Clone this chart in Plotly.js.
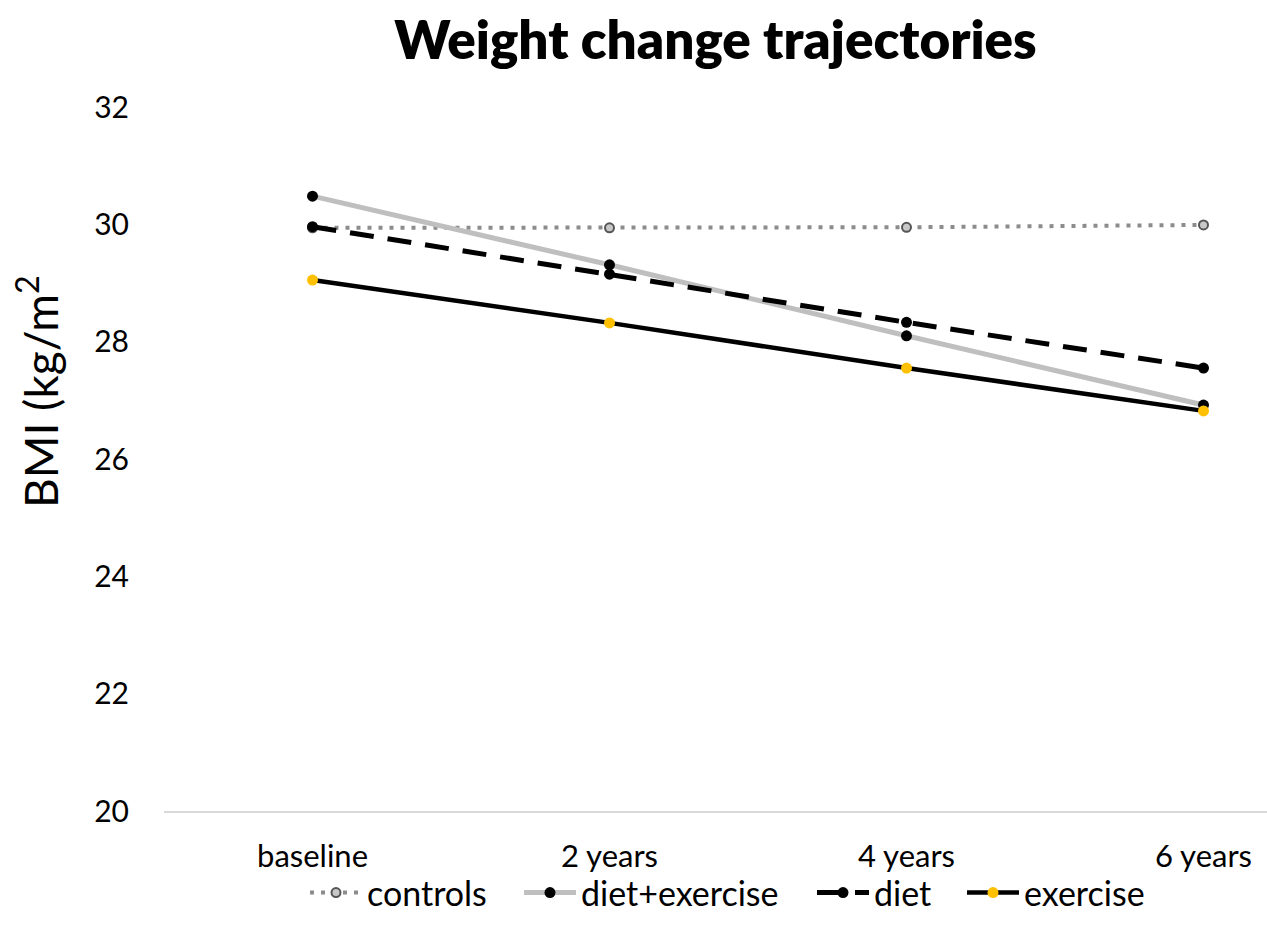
<!DOCTYPE html>
<html>
<head>
<meta charset="utf-8">
<script src="https://cdn.plot.ly/plotly-3.0.1.min.js"></script>
<style>html,body{margin:0;padding:0;background:#fff;}</style>
</head>
<body>
<div id="chart" style="width:1267px;height:935px;"></div>
<script>
const categories = ['baseline', '2 years', '4 years', '6 years'];
const controls = [29.94, 29.94, 29.95, 29.99];
const dietExercise = [30.48, 29.31, 28.10, 26.92];
const diet = [29.96, 29.15, 28.33, 27.55];
const exercise = [29.05, 28.32, 27.55, 26.82];
const yTicks = [20, 22, 24, 26, 28, 30, 32];

const W = 1267, H = 935;
const mL = 164, mR = 0, mT = 107, mB = 124;
const plotW = W - mL - mR, plotH = H - mT - mB;
const px = p => (p - mL) / plotW;
const legendY = -(893 - (H - mB)) / plotH;

const traces = [
  {
    x: categories, y: controls, name: 'controls', mode: 'lines+markers', type: 'scatter',
    legend: 'legend',
    line: {color: '#8C8C8C', width: 4, dash: '4px,7px'},
    marker: {symbol: 'circle', size: 9, color: '#C8C8C8', line: {color: '#555555', width: 2}}
  },
  {
    x: categories, y: dietExercise, name: 'diet+exercise', mode: 'lines+markers', type: 'scatter',
    legend: 'legend2',
    line: {color: '#BFBFBF', width: 5},
    marker: {symbol: 'circle', size: 11, color: '#000000'}
  },
  {
    x: categories, y: diet, name: 'diet', mode: 'lines+markers', type: 'scatter',
    legend: 'legend3',
    line: {color: '#000000', width: 5, dash: '24px,14px'},
    marker: {symbol: 'circle', size: 11, color: '#000000'}
  },
  {
    x: categories, y: exercise, name: 'exercise', mode: 'lines+markers', type: 'scatter',
    legend: 'legend4',
    line: {color: '#000000', width: 4.5},
    marker: {symbol: 'circle', size: 11, color: '#FFC000'}
  }
];

function legendAt(p) {
  return {
    orientation: 'h', x: px(p), xanchor: 'left', y: legendY, yanchor: 'middle',
    font: {size: 34, color: '#000000'}, itemwidth: 52, bgcolor: 'rgba(0,0,0,0)'
  };
}

const layout = {
  width: W, height: H,
  margin: {l: mL, r: mR, t: mT, b: mB, pad: 0},
  paper_bgcolor: '#ffffff', plot_bgcolor: '#ffffff',
  font: {family: 'Lato, "Open Sans", sans-serif', color: '#000000'},
  title: {
    text: 'Weight change trajectories',
    font: {family: 'Lato, sans-serif', size: 53, color: '#000000', weight: 800},
    x: 0.5, xref: 'paper', xanchor: 'center',
    y: 1 - 40 / H, yref: 'container', yanchor: 'middle'
  },
  xaxis: {
    type: 'category', range: [-0.5, -0.5 + plotW / 297],
    showgrid: false, zeroline: false,
    showline: true, linecolor: '#D9D9D9', linewidth: 1.5,
    ticks: '', ticklabelstandoff: 17,
    tickfont: {size: 31, color: '#000000'}
  },
  yaxis: {
    range: [20, 32], tickvals: yTicks, ticktext: yTicks.map(String),
    showgrid: false, zeroline: false, showline: false,
    ticks: '', ticklabelstandoff: 34,
    tickfont: {size: 30, color: '#000000'}
  },
  showlegend: true,
  legend: legendAt(305),
  legend2: legendAt(519),
  legend3: legendAt(812),
  legend4: legendAt(962),
  annotations: [
    {
      text: 'BMI (kg/m<sup>2</sup>', textangle: -90,
      xref: 'paper', yref: 'paper',
      x: px(37), y: ((H - mB) - 392) / plotH,
      xanchor: 'center', yanchor: 'middle', showarrow: false,
      font: {size: 46, color: '#000000', family: 'Lato, sans-serif'}
    }
  ]
};

Plotly.newPlot('chart', traces, layout, {displayModeBar: false, staticPlot: true});
</script>
</body>
</html>
